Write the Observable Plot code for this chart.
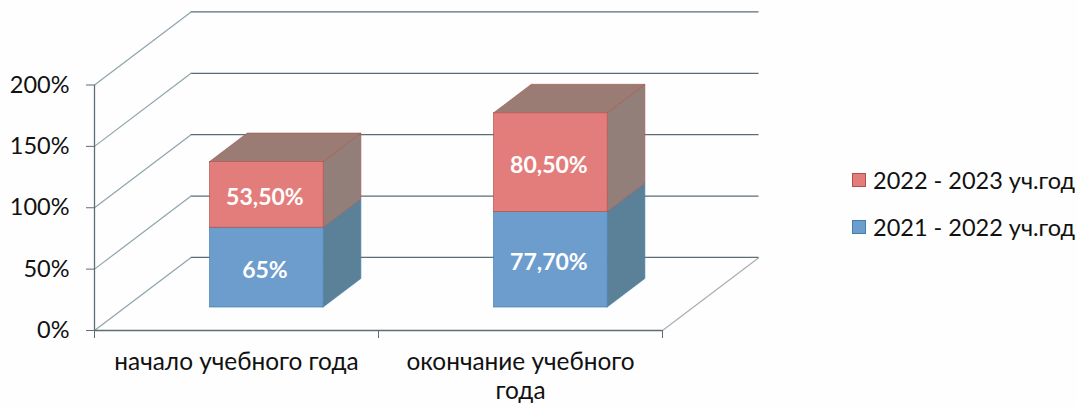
<!DOCTYPE html>
<html lang="ru">
<head>
<meta charset="utf-8">
<script src="https://cdn.jsdelivr.net/npm/d3@7"></script>
<script src="https://cdn.jsdelivr.net/npm/@observablehq/plot@0.6"></script>
<style>
  html, body { margin: 0; background: #fefefe; }
  #chart { position: relative; width: 1078px; height: 407px; overflow: hidden; font-family: Lato, "Open Sans", sans-serif; }
  #legend { position: absolute; left: 852px; top: 164px; font-size: 23.5px; color: #111; }
  #legend div { display: flex; align-items: center; height: 32px; margin-bottom: 15px; white-space: nowrap; }
  #legend i { display: block; width: 14px; height: 14px; margin-right: 7px; box-sizing: border-box; border: 1px solid; }
</style>
</head>
<body>
<div id="chart"><div id="legend"></div></div>
<script>
const categories = ["начало учебного года", "окончание учебного\nгода"];
const seriesNames = ["2021 - 2022 уч.год", "2022 - 2023 уч.год"];
const values2021 = [65, 77.7];
const values2022 = [53.5, 80.5];
const labels2021 = ["65%", "77,70%"];
const labels2022 = ["53,50%", "80,50%"];
const yTicks = [0, 50, 100, 150, 200];
const xTicks = [0, 1, 2];

const frontFill = ["#6d9dcd", "#e37d7b"];
const sideFill = ["#5b8199", "#937f7a"];
const edge = ["#3f7fae", "#b0504c"];
const topFill = "#9a7c74";

// Oblique projection, in data units: one full depth of the box shifts a point
// right by depthX categories and up by depthY percentage points.
const depthX = 0.34, depthY = 59.5;
const barWidth = 0.4, barDepthStart = 0.315, barDepthEnd = 0.705;
const px = (c, d) => c + d * depthX;
const py = (v, d) => v + d * depthY;

// Stacked segments
const segments = categories.flatMap((_, i) => {
  const c = i + 0.5, a = values2021[i], b = values2022[i];
  return [
    {i, s: 0, c, v0: 0, v1: a, label: labels2021[i]},
    {i, s: 1, c, v0: a, v1: a + b, label: labels2022[i]}
  ];
});
const x0 = s => px(s.c - barWidth / 2, barDepthStart);
const x1 = s => px(s.c + barWidth / 2, barDepthStart);
const x0b = s => px(s.c + barWidth / 2, barDepthEnd);
const y0f = s => py(s.v0, barDepthStart);
const y1f = s => py(s.v1, barDepthStart);

const sides = segments.flatMap(s => [
  {key: s.i + "-" + s.s, s: s.s, x: x1(s), y1: y0f(s), y2: y1f(s)},
  {key: s.i + "-" + s.s, s: s.s, x: x0b(s), y1: py(s.v0, barDepthEnd), y2: py(s.v1, barDepthEnd)}
]);
const tops = segments.filter(s => s.s === 1).flatMap(s => [
  {key: s.i, y: y1f(s), x1: x0(s), x2: x1(s)},
  {key: s.i, y: py(s.v1, barDepthEnd), x1: px(s.c - barWidth / 2, barDepthEnd), x2: x0b(s)}
]);

const gridColor = "#5d6d74", diagColor = "#8fa4ac";

const svg = Plot.plot({
  width: 1078, height: 407,
  marginLeft: 94, marginRight: 416, marginTop: 84.5, marginBottom: 77,
  style: {background: "transparent", fontFamily: "Lato, 'Open Sans', sans-serif", overflow: "visible"},
  x: {domain: [0, 2]},
  y: {domain: [0, 200]},
  marks: [
    // back-wall gridlines and left diagonals
    Plot.ruleY(yTicks, {y: v => py(v, 1), x1: px(0, 1), x2: px(2, 1), stroke: gridColor, strokeWidth: 1.3}),
    Plot.link(yTicks, {x1: 0, y1: v => v, x2: px(0, 1), y2: v => py(v, 1), stroke: diagColor, strokeWidth: 1.2}),
    Plot.link([0], {x1: 2, y1: 0, x2: px(2, 1), y2: py(0, 1), stroke: "#a9afb2", strokeWidth: 1.2}),
    // axes
    Plot.ruleX([0], {y1: 0, y2: 200, stroke: gridColor, strokeWidth: 1.3}),
    Plot.ruleY([0], {stroke: gridColor, strokeWidth: 1.5}),
    Plot.axisY({ticks: yTicks, tickSize: 8, tickPadding: 17, tickFormat: d => d + "%", fontSize: 23.5, label: null, stroke: gridColor, color: "#111"}),
    Plot.axisX({ticks: xTicks, tickSize: 8, tickFormat: () => "", label: null, stroke: gridColor}),
    Plot.axisX({ticks: [0.5, 1.5], tickSize: 0, tickPadding: 18, tickFormat: d => categories[d - 0.5], fontSize: 24.4, lineHeight: 1.22, label: null, color: "#111"}),
    // bars: side, top, front
    Plot.areaY(sides, {x: "x", y1: "y1", y2: "y2", z: "key", fill: d => sideFill[d.s], stroke: d => edge[d.s], strokeWidth: 0.6, curve: "linear"}),
    Plot.areaX(tops, {y: "y", x1: "x1", x2: "x2", z: "key", fill: topFill, stroke: "#a5524a", strokeWidth: 0.6, curve: "linear"}),
    Plot.rect(segments, {x1: x0, x2: x1, y1: y0f, y2: y1f, fill: d => frontFill[d.s], stroke: d => edge[d.s], strokeWidth: 0.7}),
    Plot.text(segments, {
      x: d => (x0(d) + x1(d)) / 2,
      y: d => (y0f(d) + y1f(d)) / 2,
      text: "label", fill: "#fff", fontSize: 23, fontWeight: 700, dy: 3, dx: -2
    })
  ]
});
const chart = document.getElementById("chart");
chart.insertBefore(svg, chart.firstChild);

const legend = document.getElementById("legend");
[1, 0].forEach(s => {
  const row = document.createElement("div");
  const box = document.createElement("i");
  box.style.background = frontFill[s];
  box.style.borderColor = edge[s];
  row.appendChild(box);
  row.appendChild(document.createTextNode(seriesNames[s]));
  legend.appendChild(row);
});
</script>
</body>
</html>
